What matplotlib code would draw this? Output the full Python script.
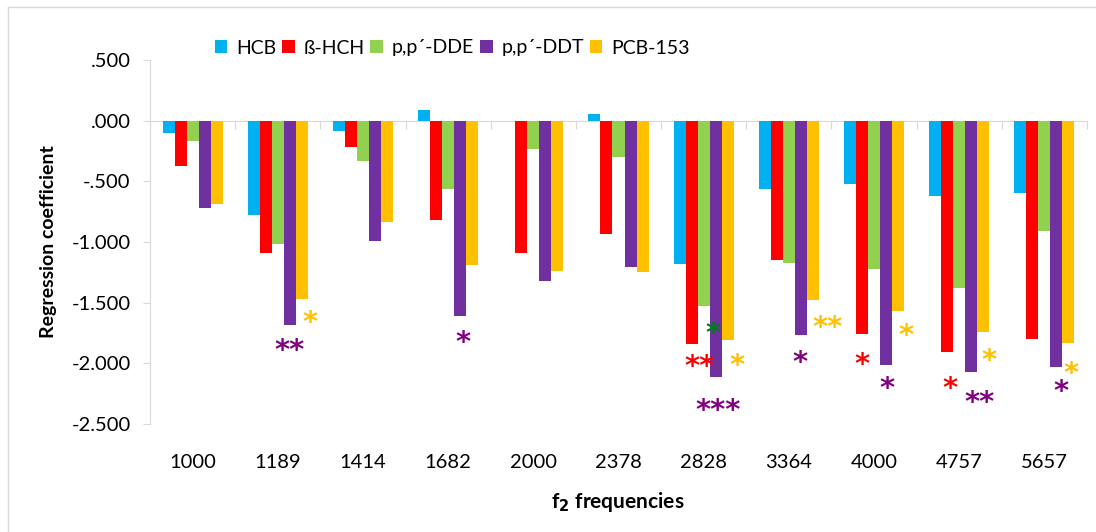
import numpy as np
import matplotlib
matplotlib.use("Agg")
import matplotlib.pyplot as plt
from matplotlib.lines import Line2D
from matplotlib.patches import Patch
import matplotlib.transforms as mtransforms

plt.rcParams['font.family'] = ['Lato', 'DejaVu Sans']

freqs = ['1000', '1189', '1414', '1682', '2000', '2378', '2828', '3364', '4000', '4757', '5657']
series = ['HCB', 'ß-HCH', 'p,p´-DDE', 'p,p´-DDT', 'PCB-153']
colors = ['#00B0F0', '#FF0000', '#92D050', '#7030A0', '#FFC000']

hcb = [-0.10, -0.78, -0.085, 0.085, 0.0, 0.058, -1.18, -0.56, -0.52, -0.62, -0.60]
hch = [-0.37, -1.09, -0.22, -0.82, -1.09, -0.93, -1.84, -1.15, -1.76, -1.91, -1.80]
dde = [-0.17, -1.02, -0.33, -0.56, -0.23, -0.30, -1.525, -1.17, -1.22, -1.38, -0.91]
ddt = [-0.72, -1.68, -0.99, -1.61, -1.32, -1.21, -2.11, -1.77, -2.01, -2.07, -2.03]
pcb = [-0.69, -1.47, -0.835, -1.19, -1.24, -1.25, -1.81, -1.48, -1.57, -1.74, -1.83]
values = [hcb, hch, dde, ddt, pcb]

# significance marks: (group, bar slot, text, colour, y centre)
stars = [
    (1, 3.0, '**', '#800080', -1.84),
    (1, 4.7, '*', '#FFC000', -1.61),
    (3, 3.2, '*', '#800080', -1.78),
    (6, 2.77, '*', '#007A1E', -1.70),
    (6, 1.65, '**', '#FF0000', -1.98),
    (6, 4.8, '*', '#FFC000', -1.97),
    (6, 3.2, '***', '#800080', -2.34),
    (7, 2.9, '*', '#800080', -1.94),
    (7, 5.2, '**', '#FFC000', -1.655),
    (8, 1.0, '*', '#FF0000', -1.96),
    (8, 3.1, '*', '#800080', -2.16),
    (8, 4.65, '*', '#FFC000', -1.72),
    (9, 1.2, '*', '#FF0000', -2.16),
    (9, 3.73, '**', '#800080', -2.27),
    (9, 4.5, '*', '#FFC000', -1.93),
    (10, 3.4, '*', '#800080', -2.18),
    (10, 4.25, '*', '#FFC000', -2.03),
]

fig = plt.figure(figsize=(10.96, 5.32), dpi=100)
ax = fig.add_axes([150/1096, 108/532, 937/1096, 364/532])

x = np.arange(len(freqs))
w = 0.141
for i, (vals, c) in enumerate(zip(values, colors)):
    ax.bar(x + (i - 2) * w, vals, w, color=c, linewidth=0, zorder=2)

ax.set_xlim(-0.5, len(freqs) - 0.5)
ax.set_ylim(-2.5, 0.5)
ax.set_yticks(np.arange(-2.5, 0.51, 0.5))
def fmt(v, pos=None):
    s = f"{v:.3f}"
    if s == "-0.000":
        s = "0.000"
    return s.replace("0.", ".", 1) if s.lstrip('-').startswith("0.") else s
ax.yaxis.set_major_formatter(plt.FuncFormatter(fmt))

for sp in ['top', 'right']:
    ax.spines[sp].set_visible(False)
ax.spines['left'].set_color('#D9D9D9')
ax.spines['bottom'].set_position(('data', 0))
ax.spines['bottom'].set_color('#D9D9D9')
ax.spines['bottom'].set_zorder(1)
ax.tick_params(axis='y', colors='#D9D9D9', labelcolor='black', labelsize=14.5, length=5, pad=9)
ax.set_xticks(np.arange(-0.5, len(freqs), 1.0))
ax.set_xticklabels([])
ax.tick_params(axis='x', colors='#D9D9D9', length=6)

trans = mtransforms.blended_transform_factory(ax.transData, ax.transAxes)
for xi, lab in zip(x, freqs):
    ax.text(xi, -0.105, lab, transform=trans, ha='center', va='center', fontsize=14.5)

ax.set_ylabel('Regression coefficient', fontsize=14, fontweight='bold', labelpad=10)
fig.text(618/1096, 1 - 502/532, r'f$_\mathbf{2}$ frequencies', ha='center', va='center',
         fontsize=15, fontweight='bold')

fs = 21
for g, slot, txt, c, yc in stars:
    ax.annotate(txt, (g + (slot - 2) * w, yc), xytext=(0, -0.5 * fs), textcoords='offset points',
                ha='center', va='baseline', fontsize=fs, fontweight='bold', color=c,
                family='DejaVu Sans', zorder=3)

handles = [Patch(facecolor=c, edgecolor='none') for c in colors]
fig.legend(handles, series, loc='center left', bbox_to_anchor=(207/1096, 1 - 48/532), ncol=5,
           frameon=False, fontsize=14, handlelength=0.65, handleheight=0.65,
           handletextpad=0.45, columnspacing=0.3, borderaxespad=0)

# chart frame (top and left edges visible)
fig.add_artist(Line2D([8/1096, 8/1096], [0, 1 - 7/532], transform=fig.transFigure, color='#D9D9D9', lw=1))
fig.add_artist(Line2D([8/1096, 1], [1 - 7/532, 1 - 7/532], transform=fig.transFigure, color='#D9D9D9', lw=1))

fig.savefig('out.png', dpi=100)
